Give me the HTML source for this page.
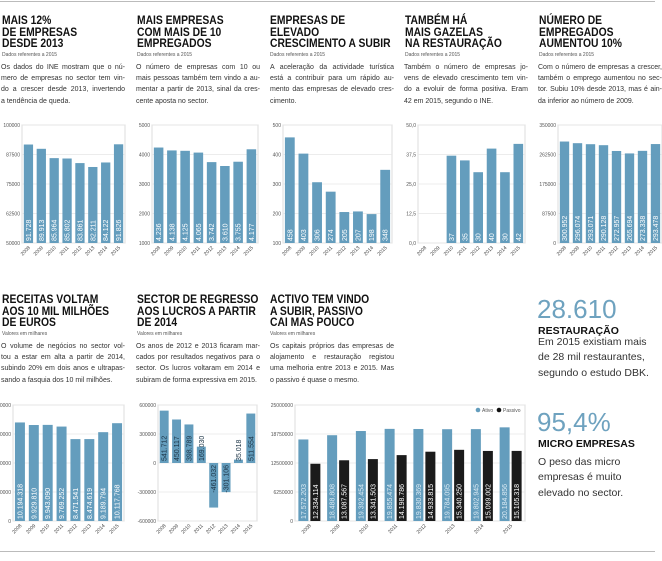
<!DOCTYPE html>
<html><head><meta charset="utf-8"><style>
body{margin:0;width:662px;height:561px;overflow:hidden;background:#fff;font-family:"Liberation Sans",sans-serif;color:#222;position:relative}
.t{position:absolute;font-weight:bold;font-size:12px;line-height:11.5px;color:#111;white-space:nowrap;transform:scaleX(0.86);transform-origin:0 0}
.s{position:absolute;font-size:5px;color:#555}
.p{position:absolute;font-size:7px;line-height:11.2px;width:124px;color:#333}
.p div{text-align:justify;text-align-last:justify;white-space:nowrap}
.p div.l{text-align-last:left}
.big{position:absolute;left:537px;font-size:26px;color:#6ea2bf;line-height:26px}
.bh{position:absolute;left:538px;font-size:10.5px;font-weight:bold;color:#111}
.bt{position:absolute;left:538px;font-size:10.5px;line-height:15.3px;color:#333;white-space:nowrap}
svg{position:absolute;left:0;top:0}
</style></head><body>
<div style="position:absolute;left:0;top:1px;width:655px;height:1px;background:#bbb"></div>
<div style="position:absolute;left:0;top:551px;width:655px;height:1px;background:#bbb"></div>

<div class="t" style="left:2px;top:15px">MAIS 12%<br>DE EMPRESAS<br>DESDE 2013</div>
<div class="s" style="left:2px;top:52px">Dados referentes a 2015</div>
<div class="p" style="left:1px;top:62px"><div>Os dados do INE mostram que o nú-</div><div>mero de empresas no sector tem vin-</div><div>do a crescer desde 2013, invertendo</div><div class="l">a tendência de queda.</div></div>

<div class="t" style="left:137px;top:15px">MAIS EMPRESAS<br>COM MAIS DE 10<br>EMPREGADOS</div>
<div class="s" style="left:137px;top:52px">Dados referentes a 2015</div>
<div class="p" style="left:136px;top:62px"><div>O número de empresas com 10 ou</div><div>mais pessoas também tem vindo a au-</div><div>mentar a partir de 2013, sinal da cres-</div><div class="l">cente aposta no sector.</div></div>

<div class="t" style="left:270px;top:15px">EMPRESAS DE<br>ELEVADO<br>CRESCIMENTO A SUBIR</div>
<div class="s" style="left:270px;top:52px">Dados referentes a 2015</div>
<div class="p" style="left:270px;top:62px"><div>A aceleração da actividade turística</div><div>está a contribuir para um rápido au-</div><div>mento das empresas de elevado cres-</div><div class="l">cimento.</div></div>

<div class="t" style="left:405px;top:15px">TAMBÉM HÁ<br>MAIS GAZELAS<br>NA RESTAURAÇÃO</div>
<div class="s" style="left:405px;top:52px">Dados referentes a 2015</div>
<div class="p" style="left:404px;top:62px"><div>Também o número de empresas jo-</div><div>vens de elevado crescimento tem vin-</div><div>do a evoluir de forma positiva. Eram</div><div class="l">42 em 2015, segundo o INE.</div></div>

<div class="t" style="left:539px;top:15px">NÚMERO DE<br>EMPREGADOS<br>AUMENTOU 10%</div>
<div class="s" style="left:539px;top:52px">Dados referentes a 2015</div>
<div class="p" style="left:538px;top:62px"><div>Com o número de empresas a crescer,</div><div>também o emprego aumentou no sec-</div><div>tor. Subiu 10% desde 2013, mas é ain-</div><div class="l">da inferior ao número de 2009.</div></div>

<div class="t" style="left:2px;top:294px">RECEITAS VOLTAM<br>AOS 10 MIL MILHÕES<br>DE EUROS</div>
<div class="s" style="left:2px;top:331px">Valores em milhares</div>
<div class="p" style="left:1px;top:341px"><div>O volume de negócios no sector vol-</div><div>tou a estar em alta a partir de 2014,</div><div>subindo 20% em dois anos e ultrapas-</div><div class="l">sando a fasquia dos 10 mil milhões.</div></div>

<div class="t" style="left:137px;top:294px">SECTOR DE REGRESSO<br>AOS LUCROS A PARTIR<br>DE 2014</div>
<div class="s" style="left:137px;top:331px">Valores em milhares</div>
<div class="p" style="left:136px;top:341px"><div>Os anos de 2012 e 2013 ficaram mar-</div><div>cados por resultados negativos para o</div><div>sector. Os lucros voltaram em 2014 e</div><div class="l">subiram de forma expressiva em 2015.</div></div>

<div class="t" style="left:270px;top:294px">ACTIVO TEM VINDO<br>A SUBIR, PASSIVO<br>CAI MAS POUCO</div>
<div class="s" style="left:270px;top:331px">Valores em milhares</div>
<div class="p" style="left:270px;top:341px"><div>Os capitais próprios das empresas de</div><div>alojamento e restauração registou</div><div>uma melhoria entre 2013 e 2015. Mas</div><div class="l">o passivo é quase o mesmo.</div></div>

<div class="big" style="top:296px">28.610</div>
<div class="bh" style="top:325px">RESTAURAÇÃO</div>
<div class="bt" style="top:335px">Em 2015 existiam mais<br>de 28 mil restaurantes,<br>segundo o estudo DBK.</div>
<div class="big" style="top:409px">95,4%</div>
<div class="bh" style="top:438px">MICRO EMPRESAS</div>
<div class="bt" style="top:455px">O peso das micro<br>empresas é muito<br>elevado no sector.</div>

<svg id="g" width="662" height="561" viewBox="0 0 662 561" font-family="Liberation Sans, sans-serif"></svg>
<script>
var B="#649dbd",years=["2008","2009","2010","2011","2012","2013","2014","2015"];
var out="";
function chart(c){
 var x0=c.x0,x1=c.x1,y0=c.y0,y1=c.y1;
 function Y(v){return y1-(v-c.min)/(c.max-c.min)*(y1-y0);}
 out+='<rect x="'+x0+'" y="'+y0+'" width="'+(x1-x0)+'" height="'+(y1-y0)+'" fill="none" stroke="#ddd" stroke-width="1"/>';
 c.ticks.forEach(function(t,i){var y=Y(t);
  out+='<line x1="'+x0+'" x2="'+x1+'" y1="'+y+'" y2="'+y+'" stroke="#e6e6e6" stroke-width="0.8"/>';
  out+='<text x="'+(x0-2)+'" y="'+(y+2)+'" font-size="5" fill="#555" text-anchor="end">'+c.tl[i]+'</text>';});
 var pitch=(x1-x0)/8;
 years.forEach(function(yr,i){var cx=x0+pitch*(i+0.5);
  out+='<text transform="translate('+(cx+2)+','+(y1+5)+') rotate(-45)" font-size="5" fill="#444" text-anchor="end">'+yr+'</text>';
  if(c.pair){
   var w=10;var v=[c.vals[i],c.vals2[i]],cols=[B,"#1b1b1b"],xs=[cx-w-1,cx+1];
   for(var k=0;k<2;k++){var yt=Y(v[k]);
    out+='<rect x="'+xs[k]+'" y="'+yt+'" width="'+w+'" height="'+(y1-yt)+'" fill="'+cols[k]+'"/>';
    out+='<text transform="translate('+(xs[k]+w/2+2.5)+','+(y1-2)+') rotate(-90)" font-size="7" fill="'+(k?"#fff":"#dcecf5")+'">'+c.lab[k][i]+'</text>';}
   return;}
  var v=c.vals[i];if(v==null)return;
  var w=pitch*0.72,bx=cx-w/2,base=c.base!=null?Y(c.base):y1,yt=Y(v);
  var top=Math.min(base,yt),h=Math.abs(base-yt);
  out+='<rect x="'+bx+'" y="'+top+'" width="'+w+'" height="'+h+'" fill="'+B+'"/>';
  if(c.base!=null){
   if(v>=0) out+='<text transform="translate('+(cx+2.5)+','+(base-2)+') rotate(-90)" font-size="7" fill="#1c3446">'+c.lab[i]+'</text>';
   else out+='<text transform="translate('+(cx+2.5)+','+(base+2)+') rotate(-90)" font-size="7" fill="#1c3446" text-anchor="end">'+c.lab[i]+'</text>';
  } else out+='<text transform="translate('+(cx+2.5)+','+(y1-2)+') rotate(-90)" font-size="7" fill="#fff">'+c.lab[i]+'</text>';
 });
}
function f(a){return a.map(function(s){return parseFloat(String(s).replace(/\./g,''));});}
var L1=["91.728","89.913","85.964","85.802","83.861","82.211","84.122","91.826"];
chart({x0:22,x1:125,y0:125,y1:243,min:50000,max:100000,ticks:[100000,87500,75000,62500,50000],tl:["100000","87500","75000","62500","50000"],vals:f(L1),lab:L1});
var L2=["4.236","4.138","4.125","4.065","3.742","3.610","3.755","4.177"];
chart({x0:152,x1:258,y0:125,y1:243,min:1000,max:5000,ticks:[5000,4000,3000,2000,1000],tl:["5000","4000","3000","2000","1000"],vals:f(L2),lab:L2});
var L3=["458","403","306","274","205","207","198","348"];
chart({x0:283,x1:392,y0:125,y1:243,min:100,max:500,ticks:[500,400,300,200,100],tl:["500","400","300","200","100"],vals:f(L3),lab:L3});
var L4=["","","37","35","30","40","30","42"];
chart({x0:418,x1:525,y0:125,y1:243,min:0,max:50,ticks:[50,37.5,25,12.5,0],tl:["50,0","37,5","25,0","12,5","0,0"],vals:[null,null,37,35,30,40,30,42],lab:L4});
var L5=["300.952","296.074","293.071","290.128","272.957","265.694","273.338","293.478"];
chart({x0:558,x1:662,y0:125,y1:243,min:0,max:350000,ticks:[350000,262500,175000,87500,0],tl:["350000","262500","175000","87500","0"],vals:f(L5),lab:L5});
var L6=["10.194.318","9.929.810","9.943.090","9.769.252","8.471.541","8.474.619","9.189.794","10.117.768"];
chart({x0:13,x1:124,y0:405,y1:521,min:0,max:12000000,ticks:[12000000,9000000,6000000,3000000,0],tl:["12000000","9000000","6000000","3000000","0"],vals:f(L6),lab:L6});
var L7=["541.712","450.117","398.789","169.030","-461.032","-301.106","35.018","511.554"];
chart({x0:158,x1:257,y0:405,y1:521,min:-600000,max:600000,base:0,ticks:[600000,300000,0,-300000,-600000],tl:["600000","300000","0","-300000","-600000"],vals:L7.map(function(s){return (s[0]=="-"?-1:1)*parseFloat(s.replace(/[-.]/g,''));}),lab:L7});
var A=["17.572.203","18.488.808","19.392.454","19.855.474","19.830.369","19.784.095","19.802.945","20.184.856"];
var P=["12.334.114","13.087.567","13.341.503","14.198.786","14.933.815","15.340.250","15.099.002","15.105.318"];
chart({x0:295,x1:525,y0:405,y1:521,min:0,max:25000000,pair:1,ticks:[25000000,18750000,12500000,6250000,0],tl:["25000000","18750000","12500000","6250000","0"],vals:f(A),vals2:f(P),lab:[A,P]});
out+='<circle cx="478" cy="410" r="2.3" fill="'+B+'"/><text x="482" y="412" font-size="5" fill="#555">Ativo</text>';
out+='<circle cx="499" cy="410" r="2.3" fill="#111"/><text x="503" y="412" font-size="5" fill="#555">Passivo</text>';
document.getElementById("g").innerHTML=out;
</script>
</body></html>
